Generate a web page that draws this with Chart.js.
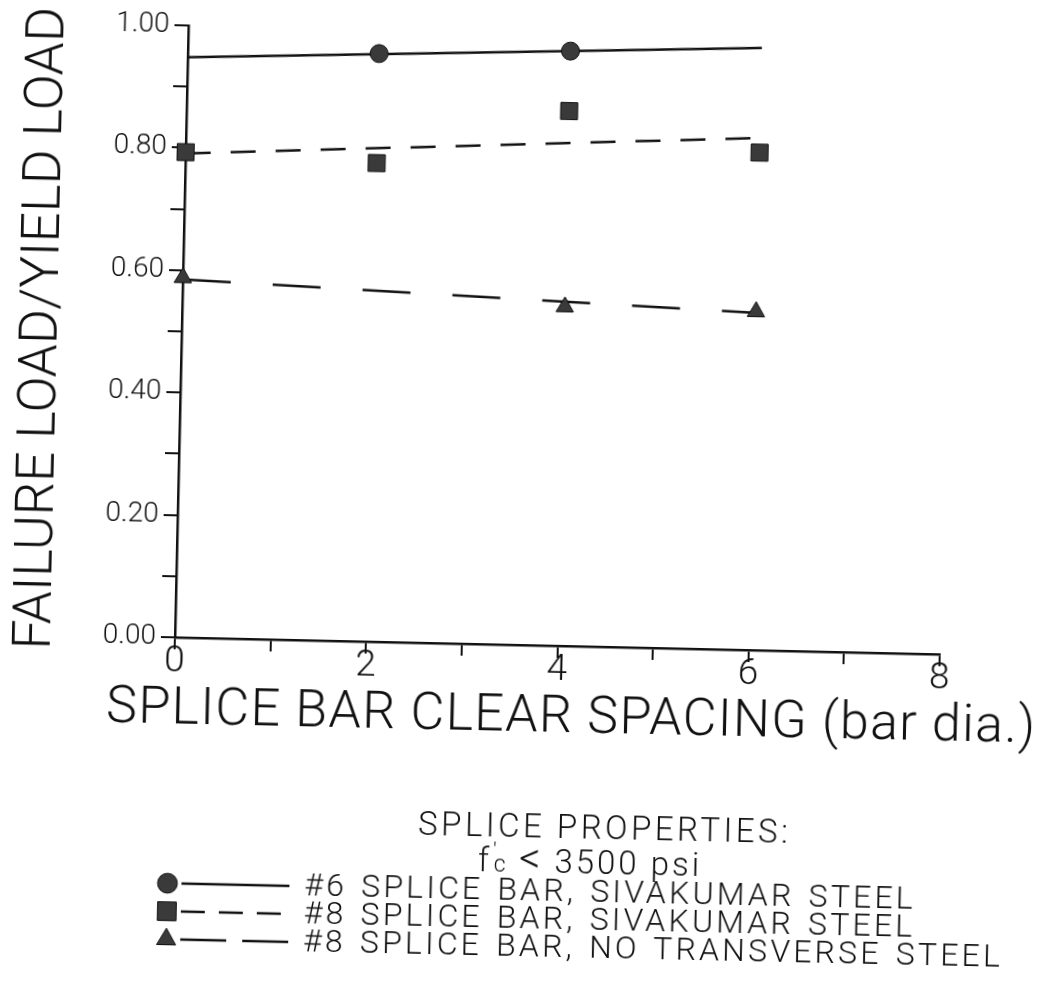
<!DOCTYPE html>
<html><head><meta charset="utf-8">
<script src="https://cdn.jsdelivr.net/npm/chart.js@4.4.1/dist/chart.umd.min.js"></script>
<style>
html,body{margin:0;padding:0;background:#fff;overflow:hidden}
#wrap{position:relative;width:1044px;height:1005px;transform:rotate(1.27deg);transform-origin:522px 502px}
#c{position:absolute;left:0;top:0}
.t{position:absolute;font-family:Roboto,'Liberation Sans',sans-serif;font-weight:300;color:#111;white-space:nowrap;line-height:1}
</style></head><body>
<div id="wrap">
<canvas id="c" width="1044" height="1005"></canvas>
<div class="t" id="xtitle" style="left:576px;top:714px;transform:translate(-50%,-50%);font-size:52px;letter-spacing:1.3px"></div>
<div class="t" id="props" style="left:612px;top:825px;transform:translate(-50%,-50%);font-size:33px;letter-spacing:3.5px"></div>
<div class="t" id="fc" style="left:598px;top:859px;transform:translate(-50%,-50%);font-size:33px;letter-spacing:3px">f<span style="position:relative;display:inline-block;width:16px;height:1em;vertical-align:top"><span style="position:absolute;left:1px;top:-1px;font-size:21px">'</span><span style="position:absolute;left:2px;top:12px;font-size:23px">c</span></span> <span style="font-size:42px;line-height:0.8">&lt;</span> 3500 psi</div>
<div id="legtext"></div>
</div>
<script>
// ---- data ----
const xTickValues = [0, 2, 4, 6, 8];
const yTickValues = [0.00, 0.20, 0.40, 0.60, 0.80, 1.00];
const circleX = [2, 4];
const circleY = [0.961, 0.972];
const squareX = [0, 2, 4, 6];
const squareY = [0.793, 0.782, 0.874, 0.813];
const triangleX = [0, 4, 6];
const triangleY = [0.588, 0.554, 0.553];
const fitX = [0, 6];
const circleFitY = [0.948, 0.984];
const squareFitY = [0.791, 0.837];
const triangleFitY = [0.585, 0.551];
const xAxisTitle = 'SPLICE BAR CLEAR SPACING (bar dia.)';
const yAxisTitle = 'FAILURE LOAD/YIELD LOAD';
const propsTitle = 'SPLICE PROPERTIES:';
const legendLabels = ['#6 SPLICE BAR, SIVAKUMAR STEEL', '#8 SPLICE BAR, SIVAKUMAR STEEL', '#8 SPLICE BAR, NO TRANSVERSE STEEL'];

const pts = (xs, ys) => xs.map((x, i) => ({x, y: ys[i]}));
const FONT = 'Roboto, "Liberation Sans", sans-serif';
const INK = '#111';
const MARK = '#3a3a3a';

document.getElementById('xtitle').textContent = xAxisTitle;
document.getElementById('props').textContent = propsTitle;
const lt = document.getElementById('legtext');
legendLabels.forEach((l, i) => {
  const d = document.createElement('div');
  d.className = 't';
  d.style.cssText = `left:313px;top:${889 + i * 28}px;transform:translateY(-50%);font-size:32px;letter-spacing:3.2px;word-spacing:3px`;
  d.textContent = l;
  lt.appendChild(d);
});

const legendPlugin = {
  id: 'lineLegend',
  afterDraw(chart, args, opts) {
    const ctx = chart.ctx;
    opts.items.forEach((it, i) => {
      const mk = chart.data.datasets[it.marker];
      const ln = chart.data.datasets[it.line];
      const y = opts.y0 + i * opts.dy;
      ctx.save();
      ctx.strokeStyle = ln.borderColor;
      ctx.lineWidth = ln.borderWidth;
      ctx.setLineDash(it.dash);
      ctx.beginPath();
      ctx.moveTo(opts.lineX0, y);
      ctx.lineTo(opts.lineX1, y);
      ctx.stroke();
      ctx.setLineDash([]);
      ctx.fillStyle = mk.backgroundColor;
      ctx.strokeStyle = mk.borderColor;
      ctx.lineWidth = mk.borderWidth;
      Chart.helpers.drawPoint(ctx, {pointStyle: mk.pointStyle, radius: mk.pointRadius * 1.1, borderWidth: mk.borderWidth, rotation: 0}, opts.markerX, y);
      ctx.restore();
    });
  }
};

new Chart(document.getElementById('c'), {
  type: 'scatter',
  data: {
    datasets: [
      {data: pts(circleX, circleY), pointStyle: 'circle', pointRadius: 9, backgroundColor: MARK, borderColor: INK, borderWidth: 1, clip: false},
      {data: pts(squareX, squareY), pointStyle: 'rect', pointRadius: 12, backgroundColor: MARK, borderColor: INK, borderWidth: 1, clip: false},
      {data: pts(triangleX, triangleY), pointStyle: 'triangle', pointRadius: 10, backgroundColor: MARK, borderColor: INK, borderWidth: 1, clip: false},
      {data: pts(fitX, circleFitY), showLine: true, pointRadius: 0, borderColor: INK, borderWidth: 2.5, borderDash: [], clip: false},
      {data: pts(fitX, squareFitY), showLine: true, pointRadius: 0, borderColor: INK, borderWidth: 2.5, borderDash: [25, 20], clip: false},
      {data: pts(fitX, triangleFitY), showLine: true, pointRadius: 0, borderColor: INK, borderWidth: 2.5, borderDash: [48, 42], clip: false}
    ]
  },
  options: {
    responsive: false,
    animation: false,
    events: [],
    layout: {padding: {left: 0, top: 33, right: 101, bottom: 310}},
    plugins: {
      legend: {display: false},
      tooltip: {enabled: false},
      lineLegend: {
        markerX: 176, lineX0: 190, lineX1: 298, y0: 891, dy: 28,
        items: [
          {marker: 0, line: 3, dash: []},
          {marker: 1, line: 4, dash: [24, 14]},
          {marker: 2, line: 5, dash: [46, 16]}
        ]
      }
    },
    scales: {
      x: {
        type: 'linear', min: 0, max: 8,
        afterFit: s => { s.height = 50; },
        afterBuildTicks: s => { s.ticks = [0,1,2,3,4,5,6,7,8].map(v => ({value: v})); },
        ticks: {
          callback: v => xTickValues.includes(v) ? String(v) : '',
          font: {family: FONT, size: 37, weight: '300'}, color: INK, padding: -9, maxRotation: 0, autoSkip: false
        },
        grid: {display: true, drawOnChartArea: false, drawTicks: true, tickLength: 12, color: INK, lineWidth: 2},
        border: {display: true, color: INK, width: 2.5}
      },
      y: {
        type: 'linear', min: 0, max: 1,
        afterFit: s => { s.width = 178; },
        afterBuildTicks: s => { s.ticks = [0,0.1,0.2,0.3,0.4,0.5,0.6,0.7,0.8,0.9,1.0].map(v => ({value: v})); },
        ticks: {
          callback: v => { const m = yTickValues.find(t => Math.abs(t - v) < 1e-6); return m === undefined ? '' : m.toFixed(2); },
          font: {family: FONT, size: 28, weight: '300'}, color: INK, padding: 5, autoSkip: false
        },
        title: {display: true, text: yAxisTitle, font: {family: FONT, size: 53, weight: '300'}, color: INK, padding: {top: 8, bottom: 0}},
        grid: {display: true, drawOnChartArea: false, drawTicks: true, tickLength: 14, color: INK, lineWidth: 2},
        border: {display: true, color: INK, width: 2.5}
      }
    }
  },
  plugins: [legendPlugin]
});
</script>
</body></html>
